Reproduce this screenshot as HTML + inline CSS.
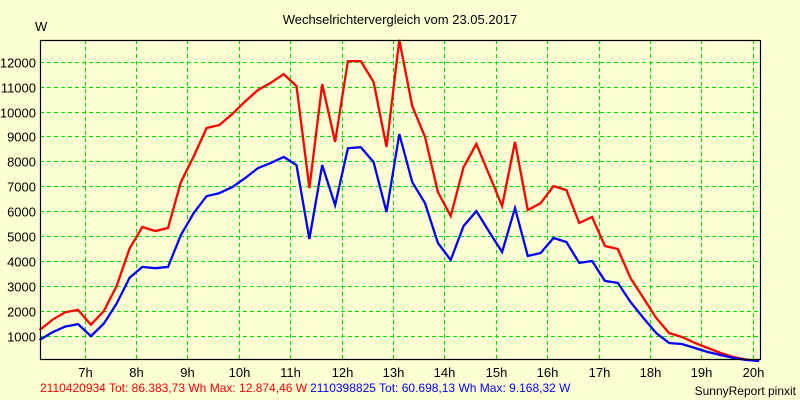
<!DOCTYPE html>
<html><head><meta charset="utf-8"><style>
html,body{margin:0;padding:0;background:#FFFFD4;}
svg{display:block;font-family:"Liberation Sans",sans-serif;}
</style></head><body>
<svg id="chart" width="800" height="400">
<rect x="0" y="0" width="800" height="400" fill="#FFFFD4"/>
<text x="400" y="24" font-size="13" text-anchor="middle" fill="#000">Wechselrichtervergleich vom 23.05.2017</text>
<text x="35" y="31" font-size="13" fill="#000">W</text>
<g id="grid"></g>
<g id="series"></g>
<g id="axes"></g>
<text x="40" y="392" font-size="12"><tspan fill="#FF0000">2110420934 Tot: 86.383,73 Wh Max: 12.874,46 W</tspan><tspan fill="#0000FF" dx="3">2110398825 Tot: 60.698,13 Wh Max: 9.168,32 W</tspan></text>
<text x="796" y="395" font-size="12" text-anchor="end" fill="#000">SunnyReport pinxit</text>
</svg>
<script>
const yTicks = [1000,2000,3000,4000,5000,6000,7000,8000,9000,10000,11000,12000];
const xTicks = [7,8,9,10,11,12,13,14,15,16,17,18,19,20];
const startHour = 6.125;
const stepHour = 0.25;
const redValues = [1240,1650,1950,2050,1450,2000,3000,4500,5370,5210,5330,7170,8200,9340,9460,9900,10400,10860,11150,11500,11020,6930,11100,8780,12020,12020,11180,8580,12870,10220,8980,6770,5810,7770,8700,7450,6210,8780,6050,6330,7010,6850,5530,5770,4610,4490,3320,2520,1720,1120,960,720,520,320,160,60,0];
const blueValues = [840,1150,1380,1480,1000,1500,2300,3330,3770,3720,3770,5050,5930,6610,6730,6970,7330,7730,7940,8180,7850,4890,7850,6250,8530,8570,7970,5970,9100,7170,6330,4730,4050,5410,6010,5170,4370,6130,4210,4330,4930,4770,3930,4010,3210,3130,2360,1720,1120,720,680,520,360,240,120,40,0];
const NS="http://www.w3.org/2000/svg";
const L=40,R=760,T=40,B=359;
function xScale(h){return 84.5+(h-7)*51.4;}
function yScale(v){return 361-v*0.02495;}
function mk(tag,attrs,parent){const e=document.createElementNS(NS,tag);for(const k in attrs)e.setAttribute(k,attrs[k]);parent.appendChild(e);return e;}
const grid=document.getElementById('grid'),axes=document.getElementById('axes'),series=document.getElementById('series');
yTicks.forEach(v=>{const y=Math.round(yScale(v))+0.5;
 const g=mk('line',{x1:L,x2:R,y1:y,y2:y,stroke:'#00E000','stroke-width':1,'stroke-dasharray':'4,3'},grid);
 
 
 const t=mk('text',{x:36,y:y+5,'font-size':13,'text-anchor':'end',fill:'#000'},axes);
 t.textContent=v;
 
 
});
xTicks.forEach(h=>{const x=Math.round(xScale(h))+0.5;
 if(x<R){const g=mk('line',{x1:x,x2:x,y1:T,y2:B,stroke:'#00E000','stroke-width':1,'stroke-dasharray':'4,3'},grid);
 
 }
 const t=mk('text',{x:x,y:377,'font-size':13,'text-anchor':'middle',fill:'#000'},axes);
 t.textContent=h+'h';
 
 
});
const frame=mk('path',{d:`M${L+0.5},${B+0.5} L${L+0.5},${T+0.5} L${R+0.5},${T+0.5} M${L},${B+0.5} L${R+0.5},${B+0.5} L${R+0.5},${T}`,stroke:'#000','stroke-width':1.2,fill:'none'},axes);


function line(vals,color,name){
 const pts=vals.map((v,i)=>xScale(startHour+i*stepHour).toFixed(1)+','+yScale(v).toFixed(1)).join(' ');
 const p=mk('polyline',{points:pts,fill:'none',stroke:color,'stroke-width':2.3,'stroke-linejoin':'miter'},series);
 
 
}
line(redValues,'#FF0000','series-2110420934');
line(blueValues,'#0000FF','series-2110398825');
</script>
</body></html>
